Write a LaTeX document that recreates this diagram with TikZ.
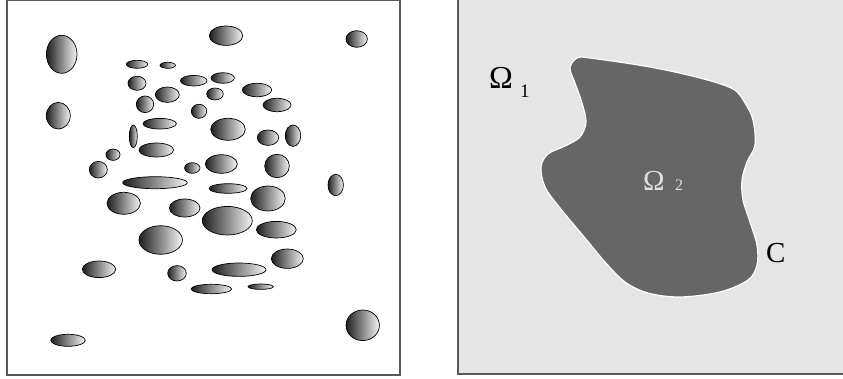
\documentclass[tikz,border=0pt]{standalone}
\usepackage{fontspec}
\setmainfont{Liberation Serif}
\begin{document}
\begin{tikzpicture}[x=1pt,y=-1pt,
  blob/.style={draw=black, line width=0.7pt, left color=black!88, right color=black!4},
  frame/.style={draw=black!65, line width=1.3pt},
  lbl/.style={inner sep=0pt, anchor=base west}]
\useasboundingbox (0,0) rectangle (843,379);
% left panel
\draw[frame] (7,0.7) rectangle (400,375);
\foreach \cx/\cy/\rx/\ry in {
 61.7/54.3/15.3/19, 226/35.7/16.7/9.7, 356.7/39/10.7/8.3,
 137/64.3/10.7/4, 167.7/65.3/7.7/3, 137/83.3/9/7,
 193.7/80.7/13.3/5.3, 222.7/78/11.7/5.3, 167.3/94.7/12/7.7,
 215/94/8.3/6, 257/90/14.7/6.7, 145/104.3/8.7/8.3,
 199/111.3/7.7/7, 277/105/14/6.7, 58.3/115.7/12/13.3,
 159.7/123.7/16.7/5.3, 133.3/136.3/4/11.3, 228/129.3/17.3/11,
 268/137.7/10.7/7.7, 293/135.7/7.7/10.7, 156.3/150/17.3/7,
 113/154.7/7/5.7, 98.3/169.7/9/8.3, 192.3/168/7.7/5.3,
 221.3/164/16/9.3, 277/166/12.3/11.7, 335.7/185/7.7/10.7,
 155/182.7/32.3/6, 228/188.5/19/4.8, 268/198.5/17.3/12.5,
 123.7/203.3/16.7/11, 184.7/208/15.3/9, 227.3/220.7/25/14.3,
 276.3/229.7/20/8.3, 160.7/240/21.7/14.3, 287.3/258.7/16/9.7,
 99/269.3/16.7/8.3, 177/273.3/9.3/7.7, 239/269.7/27/6.7,
 211.3/289/20.3/4.7, 260.7/286.7/12.7/2.7, 362.7/325.3/16.7/15.3,
 68/340.3/17.3/6}
 {\path[blob] (\cx,\cy) ellipse [x radius=\rx pt, y radius=\ry pt];}
% right panel
\fill[black!10] (458,0) rectangle (843,374);
\draw[frame] (458,0) -- (458,374) -- (843,374);
\draw[fill=black!60, draw=white, line width=1.2pt]
  plot[smooth cycle, tension=0.55] coordinates {
  (577,58) (590,58) (650,67) (700,78) (733,89) (745,103) (753,120) (755,145)
  (747,162) (742,180) (743,200) (750,222) (757,245) (757,265)
  (748,280) (720,292) (680,297) (648,293) (625,282) (605,262)
  (585,238) (560,208) (545,187) (541,167) (548,154) (565,146)
  (580,137) (586,122) (582,103) (575,83) (570,68)};
\node[lbl, font=\fontsize{32}{34}\selectfont] (om1) at (489,89) {Ω};
\node[lbl, font=\fontsize{19}{21}\selectfont] (s1) at (520,98) {1};
\node[lbl, font=\fontsize{29}{31}\selectfont, text=black!13] (om2) at (643,191) {Ω};
\node[lbl, font=\fontsize{16}{18}\selectfont, text=black!13] (s2) at (675,191) {2};
\node[lbl, font=\fontsize{29}{31}\selectfont] (c) at (766,262) {C};
\end{tikzpicture}
\end{document}
